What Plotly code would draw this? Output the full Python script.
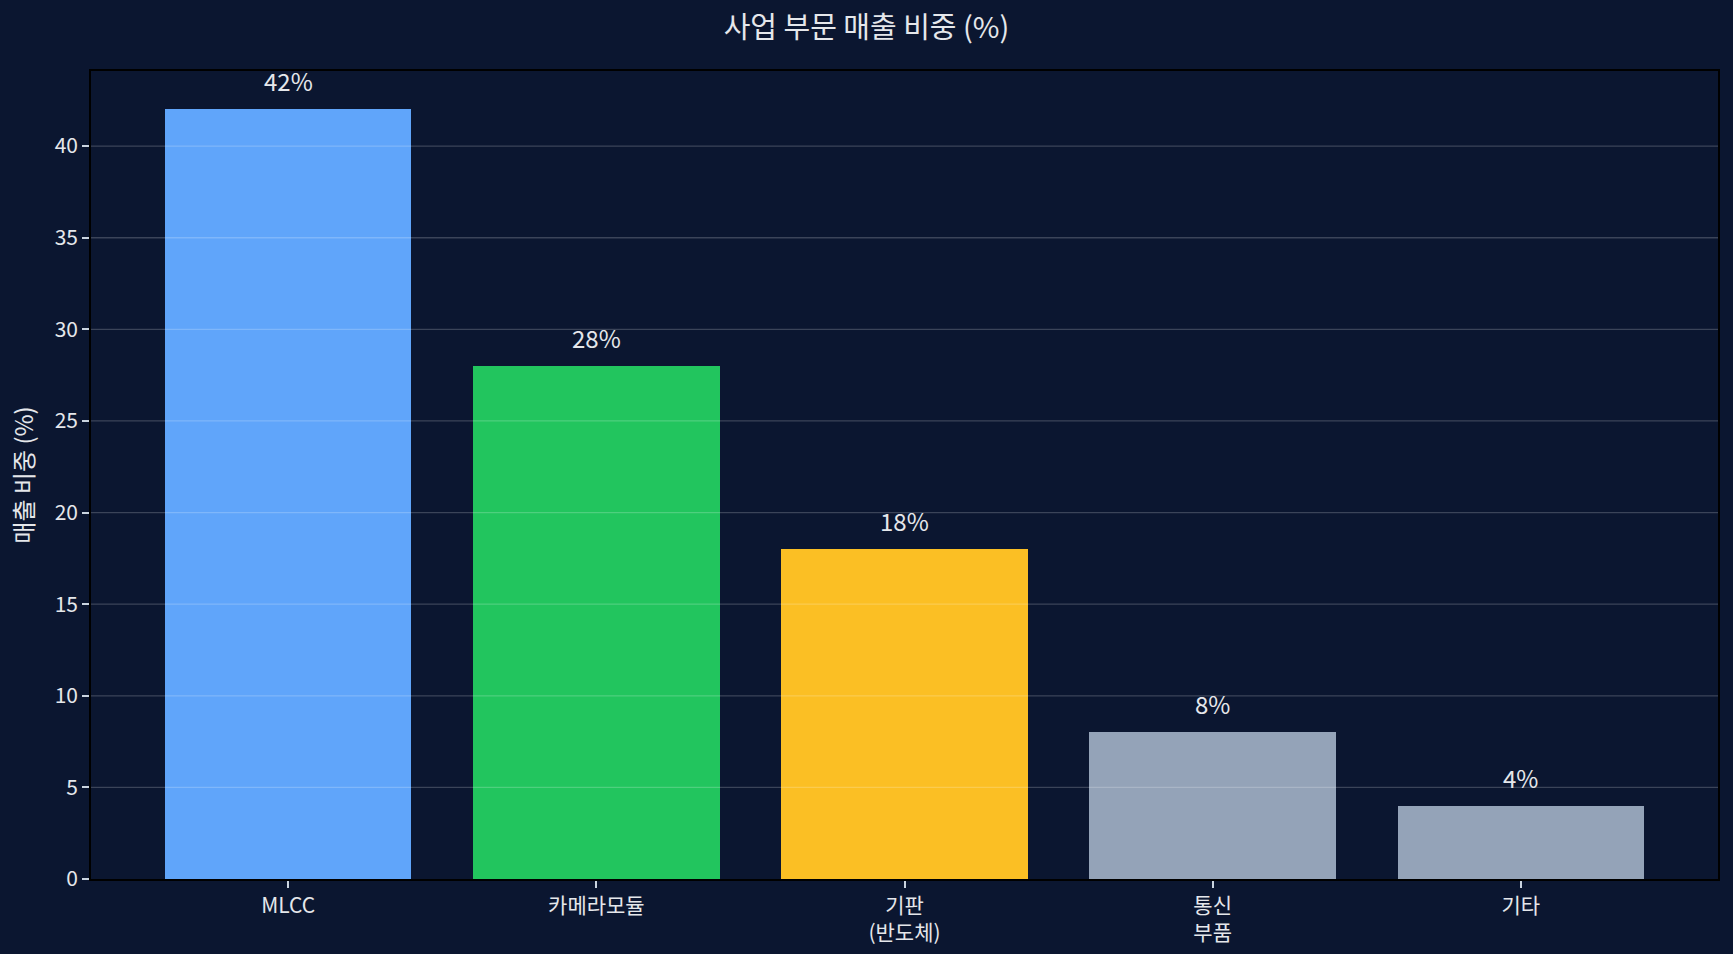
import plotly.graph_objects as go

categories = ["MLCC", "카메라모듈", "기판<br>(반도체)", "통신<br>부품", "기타"]
values = [42, 28, 18, 8, 4]
bar_labels = ["42%", "28%", "18%", "8%", "4%"]
colors = ["#60a5fa", "#22c55e", "#fbbf24", "#94a3b8", "#94a3b8"]
y_ticks = [0, 5, 10, 15, 20, 25, 30, 35, 40]

BG = "#0b1630"
TXT = "#e5e7eb"
FONT = "Noto Sans CJK KR"

x_pos = list(range(len(categories)))

fig = go.Figure()
fig.add_trace(go.Bar(
    x=x_pos, y=values, width=0.8,
    marker=dict(color=colors, line=dict(width=0)),
    hoverinfo="skip", showlegend=False,
))

for xi, v, lab in zip(x_pos, values, bar_labels):
    fig.add_annotation(
        x=xi, y=v, xref="x", yref="y", text=lab, showarrow=False,
        yanchor="bottom", yshift=9,
        font=dict(family=FONT, size=24, color=TXT),
    )

for t in y_ticks:
    if t == 0:
        continue
    fig.add_shape(
        type="line", xref="paper", yref="y", x0=0, x1=1, y0=t, y1=t,
        line=dict(color="rgba(255,255,255,0.2)", width=1.3), layer="above",
    )

fig.update_layout(
    width=1733, height=954,
    margin=dict(l=91, r=15, t=71, b=75, autoexpand=False),
    paper_bgcolor=BG, plot_bgcolor=BG,
    font=dict(family=FONT, color=TXT, size=21),
    title=dict(
        text="사업 부문 매출 비중 (%)", x=0.5, xanchor="center",
        y=1 - 28 / 954, yanchor="middle",
        font=dict(family=FONT, size=29, color=TXT),
    ),
    bargap=0,
)

fig.update_xaxes(
    range=[-0.64, 4.64], tickmode="array", tickvals=x_pos, ticktext=categories,
    showgrid=False, zeroline=False, automargin=False,
    showline=True, linecolor="#000000", linewidth=1.6, mirror=True,
    ticks="outside", ticklen=7, tickwidth=1.5, tickcolor="#cbd5e1",
    tickfont=dict(family=FONT, size=21, color=TXT),
)
fig.update_yaxes(
    range=[0, 44.1], tickmode="array", tickvals=y_ticks,
    showgrid=False, zeroline=False, automargin=False,
    showline=True, linecolor="#000000", linewidth=1.6, mirror=True,
    ticks="outside", ticklen=7, tickwidth=1.5, tickcolor="#cbd5e1",
    tickfont=dict(family=FONT, size=21, color=TXT),
    title=dict(text="매출 비중 (%)", font=dict(family=FONT, size=24, color=TXT), standoff=14),
)

fig.write_html("out.html")
